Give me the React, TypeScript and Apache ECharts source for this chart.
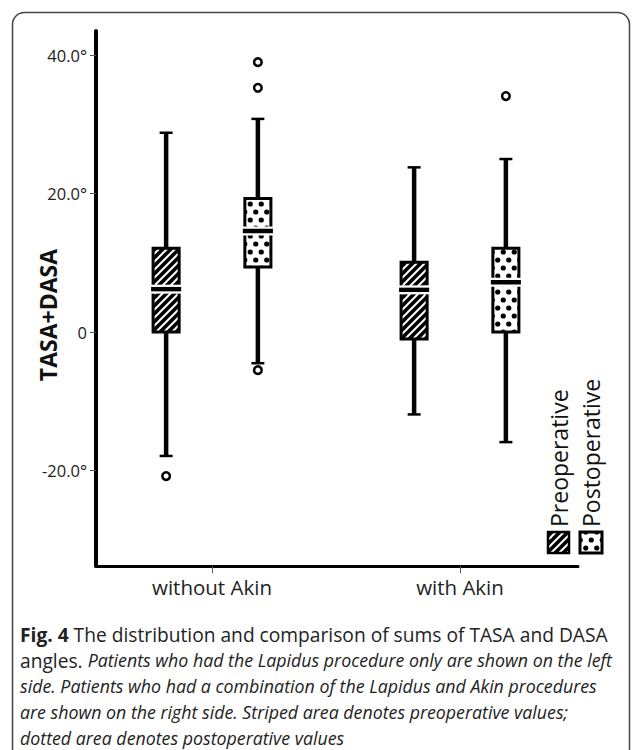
import React, { useEffect, useRef } from 'react';
import * as echarts from 'echarts';

const categories = ['without Akin', 'with Akin'];
const seriesNames = ['Preoperative', 'Postoperative'];
// [min, Q1, median, Q3, max]
const preopStats = [
  [-17.9, 0.0, 6.2, 12.1, 28.8],
  [-11.9, -1.0, 6.1, 10.1, 23.8],
];
const postopStats = [
  [-4.5, 9.4, 14.6, 19.3, 30.8],
  [-15.9, 0.0, 7.2, 12.1, 25.0],
];
// [category index, value]
const preopOutliers = [[0, -20.8]];
const postopOutliers = [[0, 39.0], [0, 35.3], [0, -5.5], [1, 34.1]];
const yTickValues = [-20, 0, 20, 40];
const yMin = -33.8;
const yMax = 43.5;
const yAxisTitle = 'TASA+DASA';
const captionLines: [string, string][][] = [
  [['b', 'Fig. 4'], ['n', ' The distribution and comparison of sums of TASA and DASA']],
  [['n', 'angles. '], ['i', 'Patients who had the Lapidus procedure only are shown on the left']],
  [['i', 'side. Patients who had a combination of the Lapidus and Akin procedures']],
  [['i', 'are shown on the right side. Striped area denotes preoperative values;']],
  [['i', 'dotted area denotes postoperative values']],
];

function makeStripePattern() {
  const s = 8;
  const c = document.createElement('canvas');
  c.width = s; c.height = s;
  const ctx = c.getContext('2d')!;
  ctx.fillStyle = '#000';
  ctx.fillRect(0, 0, s, s);
  ctx.strokeStyle = '#fff';
  ctx.lineWidth = 2;
  const seg = (x1: number, y1: number, x2: number, y2: number) => {
    ctx.beginPath(); ctx.moveTo(x1, y1); ctx.lineTo(x2, y2); ctx.stroke();
  };
  seg(-2, s + 2, s + 2, -2);
  seg(-2, 2, 2, -2);
  seg(s - 2, s + 2, s + 2, s - 2);
  return { image: c, repeat: 'repeat', imageWidth: s, imageHeight: s };
}

function makeDotPattern() {
  const w = 11;
  const h = 16;
  const c = document.createElement('canvas');
  c.width = w; c.height = h;
  const ctx = c.getContext('2d')!;
  ctx.fillStyle = '#fff';
  ctx.fillRect(0, 0, w, h);
  ctx.fillStyle = '#000';
  const dot = (x: number, y: number) => {
    ctx.beginPath(); ctx.arc(x, y, 2.6, 0, Math.PI * 2); ctx.fill();
  };
  dot(2.75, 4);
  dot(8.25, 12);
  return { image: c, repeat: 'repeat', imageWidth: w, imageHeight: h };
}

export default function App() {
  const ref = useRef<HTMLDivElement>(null);

  useEffect(() => {
    document.body.style.margin = '0';
    const chart = echarts.init(ref.current!, null, { renderer: 'svg' });
    const stripe = makeStripePattern();
    const dots = makeDotPattern();
    const OFFSET = 0.185;
    const BOXW = 0.105;

    const boxRender = (sign: number, fill: any) => (params: any, api: any) => {
      const cat = api.value(0);
      const band = api.size([1, 0])[0];
      const cx = api.coord([cat, 0])[0] + sign * band * OFFSET;
      const ys = [1, 2, 3, 4, 5].map((d) => api.coord([cat, api.value(d)])[1]);
      const [yLo, yQ1, yMed, yQ3, yHi] = ys;
      const bw = band * BOXW;
      const h = bw / 2;
      return {
        type: 'group',
        children: [
          { type: 'line', shape: { x1: cx, y1: yHi, x2: cx, y2: yLo }, style: { stroke: '#000', lineWidth: 4.5 } },
          { type: 'line', shape: { x1: cx - 6.5, y1: yHi, x2: cx + 6.5, y2: yHi }, style: { stroke: '#000', lineWidth: 2.5 } },
          { type: 'line', shape: { x1: cx - 6.5, y1: yLo, x2: cx + 6.5, y2: yLo }, style: { stroke: '#000', lineWidth: 2.5 } },
          { type: 'rect', shape: { x: cx - h, y: yQ3, width: bw, height: yQ1 - yQ3 }, style: { fill, stroke: '#000', lineWidth: 3 } },
          { type: 'rect', shape: { x: cx - h - 2, y: yMed - 4.5, width: bw + 4, height: 9 }, style: { fill: '#fff' } },
          { type: 'rect', shape: { x: cx - h - 2, y: yMed - 2.2, width: bw + 4, height: 4.4 }, style: { fill: '#000' } },
        ],
      };
    };

    const outlierRender = (sign: number) => (params: any, api: any) => {
      const cat = api.value(0);
      const band = api.size([1, 0])[0];
      const p = api.coord([cat, api.value(1)]);
      return {
        type: 'circle',
        shape: { cx: p[0] + sign * band * OFFSET, cy: p[1], r: 3.8 },
        style: { fill: '#fff', stroke: '#000', lineWidth: 2.5 },
      };
    };

    const capBase = { fontFamily: 'Open Sans', fontSize: 19.2, lineHeight: 21, fill: '#222' };
    const capRich = {
      b: { ...capBase, fontWeight: 'bold' },
      n: { ...capBase },
      i: { ...capBase, fontSize: 17.8, lineHeight: 21, fontStyle: 'italic' },
    };
    const captionGraphics = captionLines.map((line, k) => ({
      type: 'text',
      x: 20,
      y: 634 + 26 * k,
      style: {
        text: line.map(([st, t]) => `{${st}|${t}}`).join(''),
        align: 'left',
        verticalAlign: 'middle',
        ...capBase,
        rich: capRich,
      },
    }));

    chart.setOption({
      animation: false,
      backgroundColor: '#fff',
      grid: [
        { left: 88, right: 52, top: 31, bottom: 184, outerBoundsMode: 'none' },
        { left: 96, right: 58, top: 31, bottom: 184, outerBoundsMode: 'none' },
      ],
      xAxis: [
        {
          type: 'category',
          gridIndex: 0,
          data: categories,
          axisLine: { show: false, onZero: false },
          axisTick: { show: true, alignWithLabel: true, length: 7, lineStyle: { color: '#555', width: 1 } },
          axisLabel: { fontFamily: 'Open Sans', fontSize: 20.5, color: '#222', margin: 10 },
          splitLine: { show: false },
        },
        {
          type: 'category',
          gridIndex: 1,
          data: categories,
          axisLine: { show: true, onZero: false, lineStyle: { color: '#000', width: 3 } },
          axisTick: { show: false },
          axisLabel: { show: false },
          splitLine: { show: false },
        },
      ],
      yAxis: [
        {
          type: 'value',
          gridIndex: 0,
          min: yMin,
          max: yMax,
          show: false,
          splitLine: { show: false },
        },
        {
          type: 'value',
          gridIndex: 1,
          min: yMin,
          max: yMax,
          axisLine: { show: true, lineStyle: { color: '#000', width: 4 } },
          axisTick: { show: true, length: 6, customValues: yTickValues, lineStyle: { color: '#555', width: 1 } },
          axisLabel: {
            customValues: yTickValues,
            fontFamily: 'Open Sans',
            fontSize: 16.5,
            color: '#222',
            margin: 9,
            formatter: (v: number) => (v === 0 ? '0' : v.toFixed(1) + '°'),
          },
          splitLine: { show: false },
        },
      ],
      series: [
        {
          name: seriesNames[0], type: 'custom', renderItem: boxRender(-1, stripe),
          xAxisIndex: 0, yAxisIndex: 0,
          encode: { x: 0, y: [1, 2, 3, 4, 5] },
          data: categories.map((c, i) => [i, ...preopStats[i]]),
        },
        {
          name: seriesNames[1], type: 'custom', renderItem: boxRender(1, dots),
          xAxisIndex: 0, yAxisIndex: 0,
          encode: { x: 0, y: [1, 2, 3, 4, 5] },
          data: categories.map((c, i) => [i, ...postopStats[i]]),
        },
        { type: 'custom', renderItem: outlierRender(-1), xAxisIndex: 0, yAxisIndex: 0, encode: { x: 0, y: 1 }, data: preopOutliers },
        { type: 'custom', renderItem: outlierRender(1), xAxisIndex: 0, yAxisIndex: 0, encode: { x: 0, y: 1 }, data: postopOutliers },
      ],
      graphic: [
        { type: 'rect', shape: { x: 12.5, y: 12.5, width: 617, height: 800, r: 12 }, style: { fill: 'none', stroke: '#444', lineWidth: 1.5 }, silent: true },
        {
          type: 'text', x: 48, y: 315, rotation: Math.PI / 2,
          style: { text: yAxisTitle, fontFamily: 'Open Sans', fontWeight: 'bold', fontSize: 23, fill: '#111', align: 'center', verticalAlign: 'middle' },
        },
        { type: 'rect', shape: { x: 548, y: 532, width: 21, height: 21 }, style: { fill: stripe, stroke: '#000', lineWidth: 2.5 } },
        { type: 'rect', shape: { x: 580, y: 532, width: 22, height: 21 }, style: { fill: dots, stroke: '#000', lineWidth: 3 } },
        {
          type: 'text', x: 559, y: 527, rotation: Math.PI / 2,
          style: { text: seriesNames[0], fontFamily: 'Open Sans', fontSize: 23, fill: '#111', align: 'left', verticalAlign: 'middle' },
        },
        {
          type: 'text', x: 591, y: 527, rotation: Math.PI / 2,
          style: { text: seriesNames[1], fontFamily: 'Open Sans', fontSize: 23, fill: '#111', align: 'left', verticalAlign: 'middle' },
        },
        ...captionGraphics,
      ],
    });
    return () => chart.dispose();
  }, []);

  return <div ref={ref} style={{ width: 636, height: 750 }} />;
}
